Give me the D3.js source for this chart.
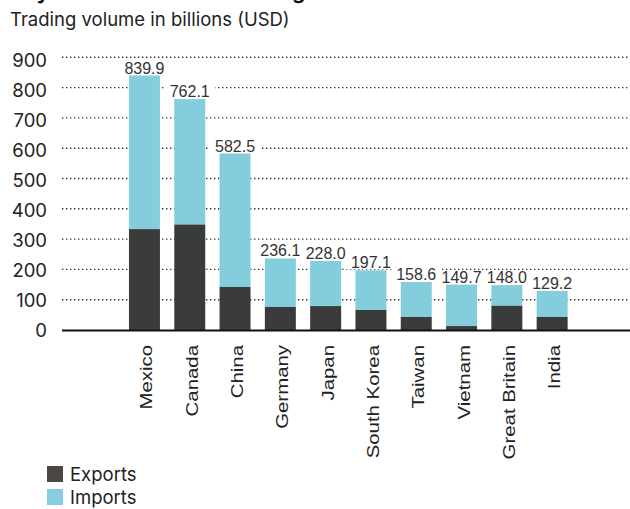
<!DOCTYPE html>
<html>
<head>
<meta charset="utf-8">
<script src="https://cdn.jsdelivr.net/npm/d3@7"></script>
<style>
  body { margin: 0; background: #fff; }
  svg { display: block; }
</style>
</head>
<body>
<div id="chart"></div>
<script>
const UI_FONT = "Inter, 'DejaVu Sans', sans-serif";
const LABEL_FONT = "'Liberation Sans', Arial, sans-serif";
const COLOR_EXPORTS = "#3a3c3c";
const COLOR_IMPORTS = "#84cddd";
const COLOR_TEXT = "#222222";

// data
const countries = ["Mexico", "Canada", "China", "Germany", "Japan", "South Korea", "Taiwan", "Vietnam", "Great Britain", "India"];
const totals = [839.9, 762.1, 582.5, 236.1, 228.0, 197.1, 158.6, 149.7, 148.0, 129.2];
const exportsVol = [333, 348, 142, 76, 79, 66, 43, 13, 80, 43];
const yTicks = [0, 100, 200, 300, 400, 500, 600, 700, 800, 900];
const seriesNames = ["Exports", "Imports"];

const width = 630, height = 509;

const svg = d3.select("#chart").append("svg")
    .attr("width", width)
    .attr("height", height);

// title, mostly above the top edge (only descenders show)
svg.append("text")
    .attr("x", 10)
    .attr("y", -1)
    .attr("font-family", UI_FONT)
    .attr("font-size", 21)
    .attr("font-weight", "bold")
    .attr("fill", "#111")
    .text("Key US trade volume ranking");

svg.append("text")
    .attr("x", 10)
    .attr("y", 26)
    .attr("font-family", UI_FONT)
    .attr("font-size", 18.5)
    .attr("fill", COLOR_TEXT)
    .text("Trading volume in billions (USD)");

// scales
const y = d3.scaleLinear().domain([0, 900]).range([330, 57.3]);
const yLabel = d3.scaleLinear().domain([0, 900]).range([330, 60]);
const x = d3.scaleBand()
    .domain(countries)
    .range([121.8, 574.8])
    .paddingInner(0.316)
    .paddingOuter(0.158);

// grid
const grid = svg.append("g").attr("class", "grid");
grid.selectAll("line")
    .data(yTicks.filter(d => d > 0))
    .enter().append("line")
    .attr("x1", 62)
    .attr("x2", width)
    .attr("y1", d => y(d))
    .attr("y2", d => y(d))
    .attr("stroke", "#333")
    .attr("stroke-width", 1.4)
    .attr("stroke-dasharray", "1.4 2.6");

// y tick labels
svg.append("g").selectAll("text")
    .data(yTicks)
    .enter().append("text")
    .attr("x", 47)
    .attr("y", d => yLabel(d))
    .attr("dy", "0.36em")
    .attr("text-anchor", "end")
    .attr("font-family", UI_FONT)
    .attr("font-size", 18.5)
    .attr("fill", COLOR_TEXT)
    .text(d => d);

// bars
const barLayer = svg.append("g").attr("class", "bars");
countries.forEach((c, i) => {
    barLayer.append("rect")
        .attr("x", x(c))
        .attr("width", x.bandwidth())
        .attr("y", y(totals[i]))
        .attr("height", y(exportsVol[i]) - y(totals[i]))
        .attr("fill", COLOR_IMPORTS);
    barLayer.append("rect")
        .attr("x", x(c))
        .attr("width", x.bandwidth())
        .attr("y", y(exportsVol[i]))
        .attr("height", y(0) - y(exportsVol[i]))
        .attr("fill", COLOR_EXPORTS);
});

// value labels with white backing
const labelLayer = svg.append("g").attr("class", "labels");
countries.forEach((c, i) => {
    const cx = x(c) + x.bandwidth() / 2;
    const by = y(totals[i]) - 2;
    const g = labelLayer.append("g");
    const bg = g.append("rect").attr("fill", "#fff");
    const t = g.append("text")
        .attr("x", cx)
        .attr("y", by)
        .attr("text-anchor", "middle")
        .attr("font-family", LABEL_FONT)
        .attr("font-size", 16)
        .attr("fill", "#333")
        .text(totals[i].toFixed(1));
    const bb = t.node().getBBox();
    bg.attr("x", bb.x - 5)
        .attr("y", by - 12)
        .attr("width", bb.width + 10)
        .attr("height", 13);
});

// baseline
svg.append("line")
    .attr("x1", 62)
    .attr("x2", width)
    .attr("y1", y(0) + 0.5)
    .attr("y2", y(0) + 0.5)
    .attr("stroke", "#111")
    .attr("stroke-width", 2);

// category labels
svg.append("g").selectAll("text")
    .data(countries)
    .enter().append("text")
    .attr("transform", d => "translate(" + (x(d) + x.bandwidth() / 2 + 8) + ",345) rotate(-90) scale(1.2,1)")
    .attr("text-anchor", "end")
    .attr("font-family", LABEL_FONT)
    .attr("font-size", 17)
    .attr("fill", COLOR_TEXT)
    .text(d => d);

// legend
const legend = svg.append("g").attr("class", "legend");
const legendColors = ["#4a4745", "#85cee2"];
seriesNames.forEach((s, i) => {
    legend.append("rect")
        .attr("x", 47)
        .attr("y", 466 + i * 23)
        .attr("width", 16)
        .attr("height", 16)
        .attr("fill", legendColors[i]);
    legend.append("text")
        .attr("x", 70)
        .attr("y", 481 + i * 23)
        .attr("font-family", UI_FONT)
        .attr("font-size", 18.5)
        .attr("fill", COLOR_TEXT)
        .text(s);
});
</script>
</body>
</html>
